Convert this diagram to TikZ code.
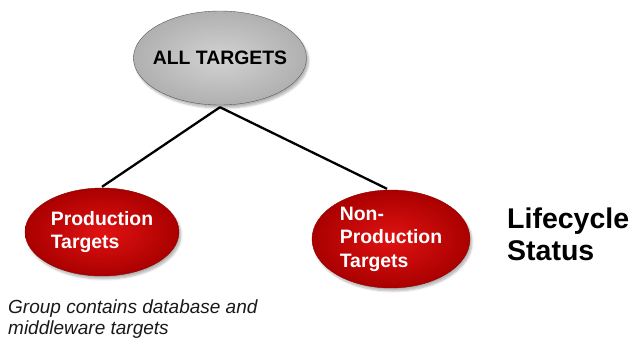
\documentclass[tikz,border=0pt]{standalone}
\usepackage{fontspec}
\setmainfont{Liberation Sans}
\usetikzlibrary{shapes.geometric,shadows.blur}

\tikzset{
  oval/.style={ellipse, inner sep=0pt, blur shadow={shadow xshift=2pt, shadow yshift=-3pt, shadow opacity=30, shadow blur steps=6}},
  rootoval/.style={oval, inner xsep=-6pt, minimum width=170pt, minimum height=94pt,
    draw=gray!70!black, line width=0.4pt,
    shade, inner color=gray!35, outer color=gray!62,
    font=\bfseries\fontsize{19.4}{23}\selectfont, text=black},
  leafoval/.style={oval, draw=red!55!black, line width=0.4pt,
    shade, inner color={rgb,255:red,225;green,18;blue,18}, outer color={rgb,255:red,170;green,0;blue,0},
    font=\bfseries\fontsize{19.4}{23.5}\selectfont, text=white, align=left},
  link/.style={draw=black, line width=2.3pt},
  sidelabel/.style={anchor=west, align=left, inner sep=0pt, font=\bfseries\fontsize{28.5}{32}\selectfont},
  note/.style={anchor=north west, align=left, inner sep=0pt, font=\itshape\fontsize{19}{20.5}\selectfont, text=black!90}
}

\begin{document}
\begin{tikzpicture}[x=1pt, y=-1pt]
  \useasboundingbox (0,0) rectangle (633,343);

  % hierarchy nodes
  \node[rootoval] (all) at (220,58) {ALL TARGETS};
  \node[leafoval, minimum width=154pt, minimum height=88pt] (prod) at (102,232) {Production\\Targets};
  \node[leafoval, minimum width=158pt, minimum height=98pt] (nonprod) at (391,239) {Non-\\Production\\Targets};

  % connectors from the root to both groups
  \coordinate (fork) at ([yshift=-2pt]all.south);
  \draw[link] (fork) -- ([yshift=1pt]prod.north);
  \draw[link] (fork) -- ([xshift=-4pt,yshift=1pt]nonprod.north);

  % labels
  \node[sidelabel] (status) at (507,234) {Lifecycle\\Status};
  \node[note] (caption) at (8,300) {Group contains database and\\middleware targets};
\end{tikzpicture}
\end{document}
